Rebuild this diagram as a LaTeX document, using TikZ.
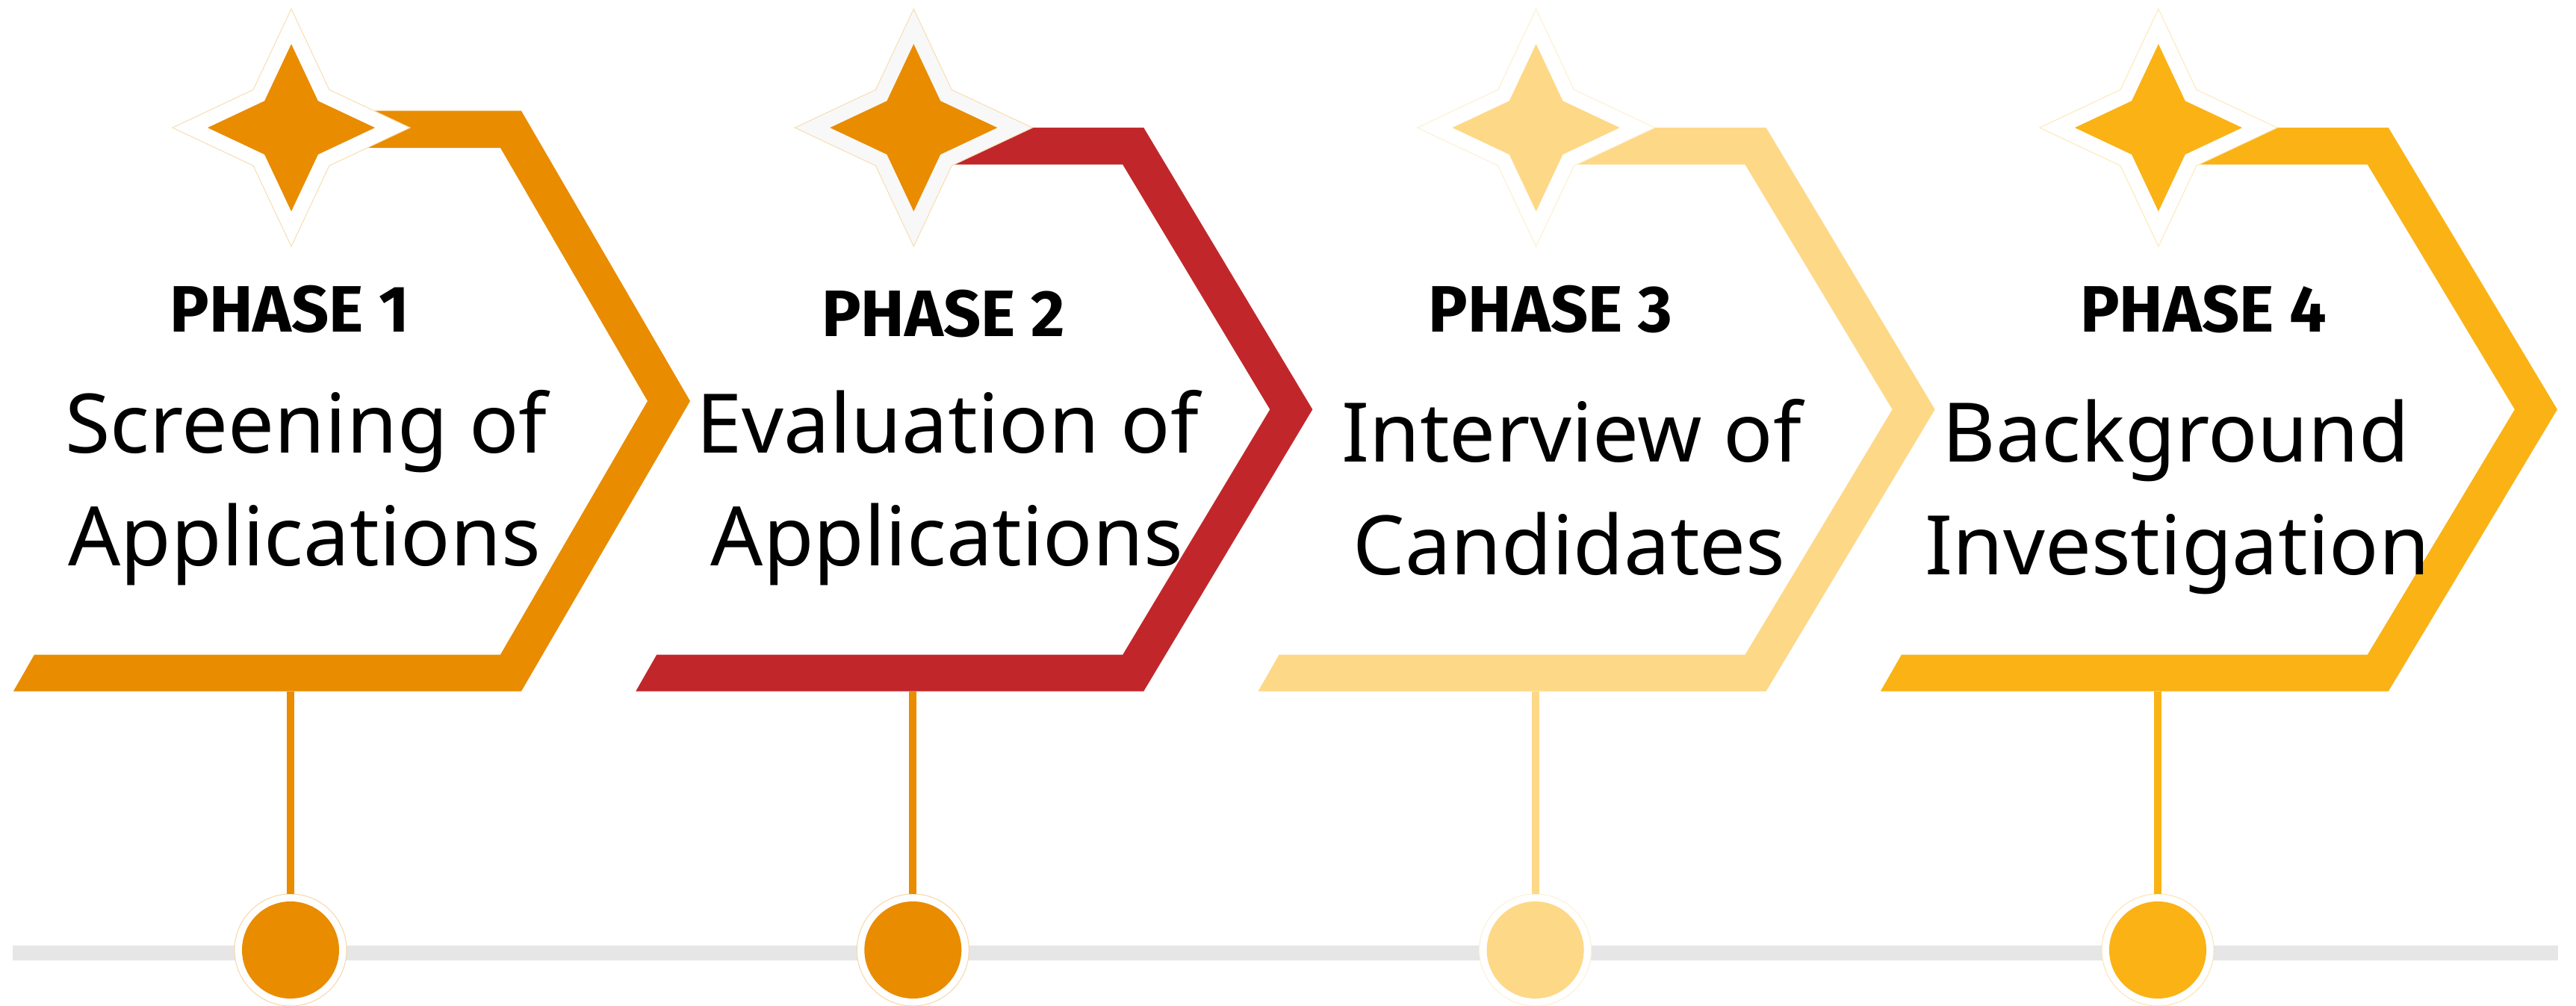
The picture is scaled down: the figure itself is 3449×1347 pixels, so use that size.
\documentclass[tikz,border=0pt]{standalone}
\usepackage{fontspec}
\setmainfont{Noto Sans}
\newfontfamily\phasefont{Fira Sans}
\definecolor{cOrange}{HTML}{E98C00}
\definecolor{cRed}{HTML}{C1272A}
\definecolor{cLight}{HTML}{FDD886}
\definecolor{cGold}{HTML}{FAB215}
\definecolor{cGray}{HTML}{E6E6E6}
\definecolor{cPale}{HTML}{F8F8F8}
\newcommand\chevshape[3]{%
  \fill[#3] ({#1+698},#2) -- ({#1+924},{(#2+925.5)/2}) -- ({#1+698},925.5)
    -- ({#1+18},925.5) -- ({#1+46},876.5) -- ({#1+670},876.5)
    -- ({#1+867},{(#2+925.5)/2}) -- ({#1+670},{#2+49.5})
    -- ({#1+430},{#2+49.5}) -- ({#1+430},#2) -- cycle;}
\newcommand\sparkle[4]{%
  \path[#4] ({#1+#3},#2) -- ({#1+0.32*#3},{#2-0.32*#3}) -- (#1,{#2-#3})
    -- ({#1-0.32*#3},{#2-0.32*#3}) -- ({#1-#3},#2) -- ({#1-0.32*#3},{#2+0.32*#3})
    -- (#1,{#2+#3}) -- ({#1+0.32*#3},{#2+0.32*#3}) -- cycle;}
\tikzset{
  maintext/.style={anchor=base, inner sep=0pt, font=\fontsize{31.3pt}{40pt}\selectfont},
  phasetext/.style={anchor=center, inner sep=0pt, font=\phasefont\bfseries\fontsize{25pt}{30pt}\selectfont},
  ring/.style={circle, fill=white, draw=#1!35, line width=0.1mm, minimum size=15mm, inner sep=0pt},
  dot/.style={circle, fill=#1, minimum size=13mm, inner sep=0pt},
  stem/.style={draw=#1, line width=1mm},
}
\begin{document}
\begin{tikzpicture}[x=0.1mm, y=-0.1mm]
\useasboundingbox (0,0) rectangle (3449,1347);
\fill[white] (0,0) rectangle (3449,1347);
% timeline
\coordinate (gl) at (17,1276);
\coordinate (gr) at (3425,1276);
\draw[cGray, line width=2mm] (gl) -- (gr);
% chevrons
\chevshape{0}{148.5}{cOrange}
\chevshape{833.3}{171}{cRed}
\chevshape{1666.6}{171}{cLight}
\chevshape{2499.9}{171}{cGold}
% stars
\sparkle{390}{171}{159}{fill=white, draw=cOrange!30, line width=0.1mm}
\sparkle{390}{171}{112}{fill=cOrange}
\sparkle{1223.3}{171}{159}{fill=cPale, draw=cOrange!30, line width=0.1mm}
\sparkle{1223.3}{171}{112}{fill=cOrange}
\sparkle{2056.6}{171}{159}{fill=white, draw=cLight!40, line width=0.1mm}
\sparkle{2056.6}{171}{112}{fill=cLight}
\sparkle{2889.9}{171}{159}{fill=white, draw=cGold!30, line width=0.1mm}
\sparkle{2889.9}{171}{112}{fill=cGold}
% stems and dots
\coordinate (s1) at (389,925.5);
\coordinate (s2) at (1222.3,925.5);
\coordinate (s3) at (2055.6,925.5);
\coordinate (s4) at (2889,925.5);
\node[ring=cOrange] (r1) at (389,1272) {};
\node[ring=cOrange] (r2) at (1222.3,1272) {};
\node[ring=cLight] (r3) at (2055.6,1272) {};
\node[ring=cGold] (r4) at (2889,1272) {};
\node[dot=cOrange] (d1) at (r1) {};
\node[dot=cOrange] (d2) at (r2) {};
\node[dot=cLight] (d3) at (r3) {};
\node[dot=cGold] (d4) at (r4) {};
\draw[stem=cOrange] (s1) -- (r1.north);
\draw[stem=cOrange] (s2) -- (r2.north);
\draw[stem=cLight] (s3) -- (r3.north);
\draw[stem=cGold] (s4) -- (r4.north);
% phase labels
\node[phasetext] (p1) at (388,414) {PHASE 1};
\node[phasetext] (p2) at (1263,420) {PHASE 2};
\node[phasetext] (p3) at (2076,414.5) {PHASE 3};
\node[phasetext] (p4) at (2950,414.5) {PHASE 4};
% main texts
\node[maintext] (t1a) at (410,606) {Screening of};
\node[maintext] (t1b) at (407.6,757.6) {Applications};
\node[maintext] (t2a) at (1269,606) {Evaluation of};
\node[maintext] (t2b) at (1268,757.6) {Applications};
\node[maintext] (t3a) at (2104,618) {Interview of};
\node[maintext] (t3b) at (2101,769.7) {Candidates};
\node[maintext] (t4a) at (2913.5,618) {Background};
\node[maintext] (t4b) at (2915,769.7) {Investigation};
\end{tikzpicture}
\end{document}
